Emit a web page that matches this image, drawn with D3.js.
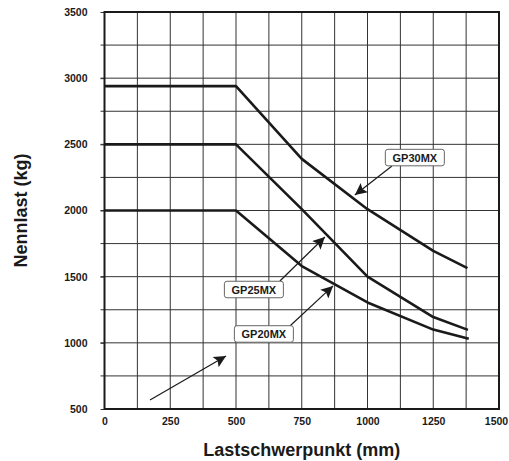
<!DOCTYPE html>
<html>
<head>
<meta charset="utf-8">
<script src="https://cdn.jsdelivr.net/npm/d3@7"></script>
<style>
  body { margin: 0; background: #fff; }
  text { font-family: "Liberation Sans", Arial, sans-serif; font-weight: bold; fill: #1a1a1a; }
</style>
</head>
<body>
<svg width="509" height="461"></svg>
<script>
// load capacity per model (Lastschwerpunkt mm -> Nennlast kg)
const centers30 = [0, 500, 750, 1000, 1250, 1380];
const load30    = [2940, 2940, 2390, 2010, 1695, 1565];
const centers25 = [0, 500, 750, 1000, 1250, 1382];
const load25    = [2500, 2500, 2010, 1500, 1195, 1098];
const centers20 = [0, 500, 625, 750, 1000, 1250, 1385];
const load20    = [2000, 2000, 1790, 1580, 1305, 1100, 1030];

const xTicks = [0, 250, 500, 750, 1000, 1250, 1500];
const yTicks = [500, 1000, 1500, 2000, 2500, 3000, 3500];

// labels: box centre, arrow start, arrow tip (data units)
const labels    = ["GP30MX", "GP25MX", "GP20MX"];
const boxX      = [1180, 568, 606];
const boxY      = [2400, 1403, 1067];
const arrowFrom = [[1093, 2336], [667, 1467], [705, 1127]];
const arrowTo   = [[952, 2117], [838, 1800], [869, 1430]];
// loose arrow without label
const extraArrow = [[173, 568], [462, 900]];

const svg = d3.select('svg');
const m = {left: 104.5, right: 10, top: 12, bottom: 52};
const width = +svg.attr('width'), height = +svg.attr('height');

const x = d3.scaleLinear().domain([0, 1500]).range([m.left, width - m.right]);
const y = d3.scaleLinear().domain([500, 3500]).range([height - m.bottom, m.top]);

svg.append('defs').append('marker')
  .attr('id', 'arr').attr('viewBox', '0 0 10 10')
  .attr('refX', 10).attr('refY', 5)
  .attr('markerWidth', 16).attr('markerHeight', 12)
  .attr('markerUnits', 'userSpaceOnUse')
  .attr('orient', 'auto')
  .append('path').attr('d', 'M0,0 L10,5 L0,10 L2,5 Z').attr('fill', '#1a1a1a');

// grid
const g = svg.append('g');
g.selectAll('.vg').data(d3.range(125, 1500, 125)).enter().append('line')
  .attr('x1', d => x(d)).attr('x2', d => x(d))
  .attr('y1', y(500)).attr('y2', y(3500))
  .attr('stroke', '#333').attr('stroke-width', 1);
g.selectAll('.hg').data(d3.range(750, 3500, 250)).enter().append('line')
  .attr('x1', x(0) - 4).attr('x2', x(1500))
  .attr('y1', d => y(d)).attr('y2', d => y(d))
  .attr('stroke', '#333').attr('stroke-width', 1);

// y axis
const yAxis = svg.append('g').attr('transform', `translate(${x(0)},0)`)
  .call(d3.axisLeft(y).tickValues(yTicks).tickSize(4).tickPadding(13).tickFormat(d3.format('d')));
yAxis.select('.domain').remove();
yAxis.selectAll('line').attr('stroke', '#333');
yAxis.selectAll('text').attr('font-size', 10.5).attr('font-family', '"Liberation Sans", Arial, sans-serif').attr('font-weight', 'bold');

// x axis
const xAxis = svg.append('g').attr('transform', `translate(0,${y(500)})`)
  .call(d3.axisBottom(x).tickValues(xTicks).tickSize(0).tickPadding(9).tickFormat(d3.format('d')));
xAxis.select('.domain').remove();
xAxis.selectAll('text').attr('font-size', 10.5).attr('font-family', '"Liberation Sans", Arial, sans-serif').attr('font-weight', 'bold')
  .attr('dx', d => d === 1500 ? -3 : 0);

// frame
svg.append('rect')
  .attr('x', x(0)).attr('y', y(3500))
  .attr('width', x(1500) - x(0)).attr('height', y(500) - y(3500))
  .attr('fill', 'none').attr('stroke', '#1a1a1a').attr('stroke-width', 2);

// curves
const line = d3.line().x(d => x(d[0])).y(d => y(d[1]));
[[centers30, load30], [centers25, load25], [centers20, load20]].forEach(([cx, ly]) => {
  svg.append('path')
    .datum(d3.zip(cx, ly))
    .attr('d', line)
    .attr('fill', 'none').attr('stroke', '#1a1a1a').attr('stroke-width', 2.6)
    .attr('stroke-linejoin', 'round');
});

// arrows
const arrows = arrowFrom.map((f, i) => [f, arrowTo[i]]).concat([extraArrow]);
svg.selectAll('.arrow').data(arrows).enter().append('line')
  .attr('x1', d => x(d[0][0])).attr('y1', d => y(d[0][1]))
  .attr('x2', d => x(d[1][0])).attr('y2', d => y(d[1][1]))
  .attr('stroke', '#1a1a1a').attr('stroke-width', 1.2)
  .attr('marker-end', 'url(#arr)');

// label boxes
labels.forEach((t, i) => {
  const bw = 59, bh = 16.5;
  svg.append('rect')
    .attr('x', x(boxX[i]) - bw / 2).attr('y', y(boxY[i]) - bh / 2)
    .attr('width', bw).attr('height', bh).attr('rx', 2.5)
    .attr('fill', '#fff').attr('stroke', '#666').attr('stroke-width', 1);
  svg.append('text')
    .attr('x', x(boxX[i])).attr('y', y(boxY[i]) + 4)
    .attr('text-anchor', 'middle').attr('font-size', 11)
    .text(t);
});

// axis titles
svg.append('text')
  .attr('x', (x(0) + x(1500)) / 2).attr('y', 456)
  .attr('text-anchor', 'middle').attr('font-size', 18)
  .text('Lastschwerpunkt (mm)');
svg.append('text')
  .attr('transform', `translate(27,${(y(500) + y(3500)) / 2}) rotate(-90)`)
  .attr('text-anchor', 'middle').attr('font-size', 18)
  .text('Nennlast (kg)');
</script>
</body>
</html>
